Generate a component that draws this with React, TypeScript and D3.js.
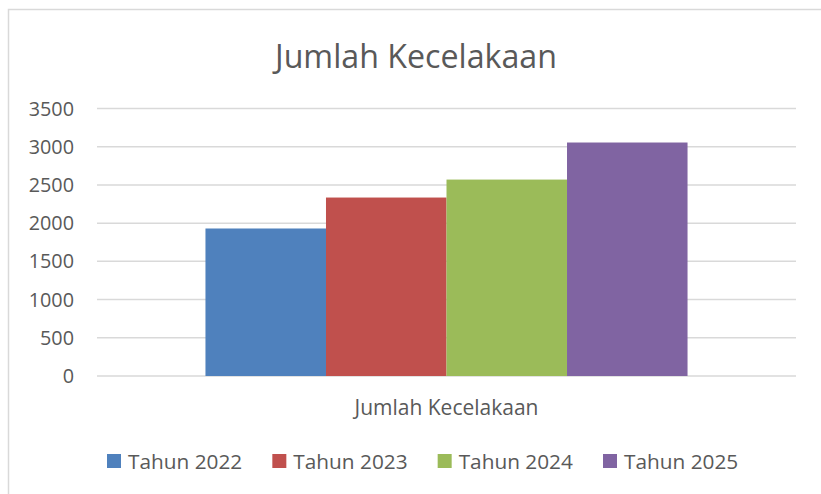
import React from 'react';
import * as d3 from 'd3';

const categories: string[] = ['Jumlah Kecelakaan'];
const seriesNames: string[] = ['Tahun 2022', 'Tahun 2023', 'Tahun 2024', 'Tahun 2025'];
const seriesValues: number[] = [1930, 2335, 2570, 3055];
const seriesColors: string[] = ['#4F81BD', '#C0504D', '#9BBB59', '#8064A2'];
const yTicks: number[] = [0, 500, 1000, 1500, 2000, 2500, 3000, 3500];

const width = 821;
const height = 494;
const margin = { top: 108.5, right: 25, bottom: 118, left: 97 };
const font = '"Open Sans", sans-serif';
const textColor = '#595959';

function App() {
    const x0 = d3.scaleBand()
        .domain(categories)
        .range([margin.left, width - margin.right])
        .paddingInner(0)
        .paddingOuter(0.225);

    const x1 = d3.scaleBand()
        .domain(seriesNames)
        .range([0, x0.bandwidth()]);

    const y = d3.scaleLinear()
        .domain([0, 3500])
        .range([height - margin.bottom, margin.top]);

    const legendX = d3.scalePoint()
        .domain(seriesNames)
        .range([107, 603]);

    return (
        <svg width={width} height={height} style={{ position: 'absolute', left: 0, top: 0 }}>
            <rect x={0} y={0} width={width} height={height} fill="#fff" />
            <path d={`M8.5,${height} V9.5 H${width}`} fill="none" stroke="#D9D9D9" strokeWidth={1.5} />
            <text x={416} y={68} textAnchor="middle" fontFamily={font} fontSize={32.2} fill={textColor}>
                Jumlah Kecelakaan
            </text>
            <g className="grid">
                {yTicks.map(t => (
                    <line key={t} x1={margin.left} x2={width - margin.right} y1={y(t)} y2={y(t)}
                        stroke="#D9D9D9" strokeWidth={1.5} />
                ))}
            </g>
            <g className="y-axis">
                {yTicks.map(t => (
                    <text key={t} x={74} y={y(t)} dy="0.36em" textAnchor="end"
                        fontFamily={font} fontSize={19.8} fill={textColor}>{t}</text>
                ))}
            </g>
            <g className="bars">
                {categories.map(c => (
                    <g key={c} transform={`translate(${x0(c)},0)`}>
                        {seriesNames.map((s, i) => (
                            <rect key={s} x={x1(s)} y={y(seriesValues[i])} width={x1.bandwidth()}
                                height={y(0) - y(seriesValues[i])} fill={seriesColors[i]} />
                        ))}
                    </g>
                ))}
            </g>
            <g className="x-axis">
                {categories.map(c => (
                    <text key={c} x={(x0(c) as number) + x0.bandwidth() / 2} y={415} textAnchor="middle"
                        fontFamily={font} fontSize={21} fill={textColor}>{c}</text>
                ))}
            </g>
            <g className="legend">
                {seriesNames.map((s, i) => (
                    <g key={s} transform={`translate(${legendX(s)},0)`}>
                        <rect x={0} y={454} width={14} height={14} fill={seriesColors[i]} />
                        <text x={21} y={469} fontFamily={font} fontSize={20.8} fill={textColor}>{s}</text>
                    </g>
                ))}
            </g>
        </svg>
    );
}

export default App;
